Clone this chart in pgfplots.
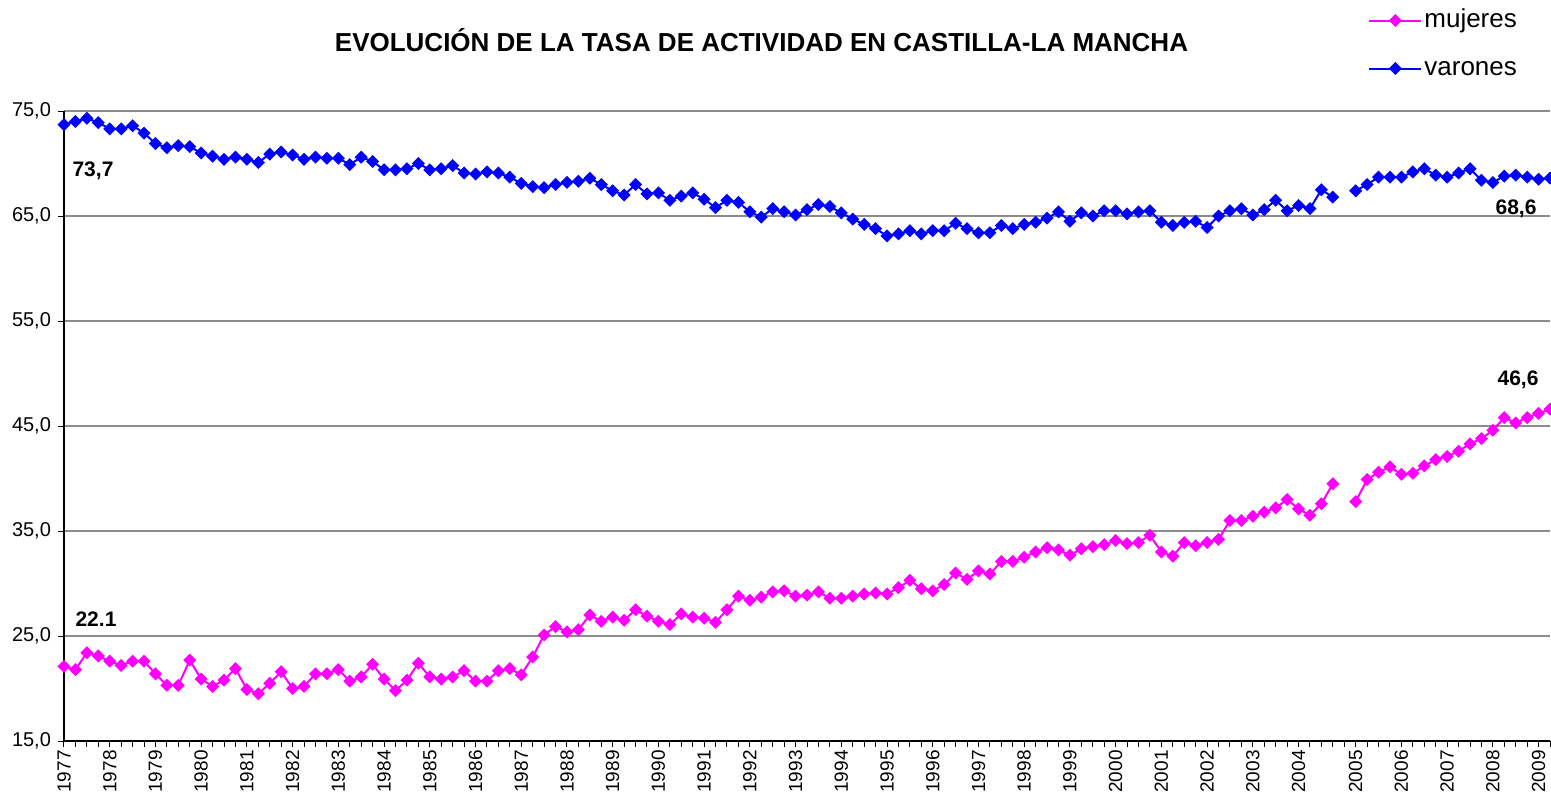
\documentclass[border=0pt]{standalone}
\usepackage{fontspec}
\setmainfont{Liberation Sans}
\usepackage{pgfplots}
\usepackage{pgfplotstable}
\pgfplotsset{compat=1.18}
\definecolor{muj}{RGB}{255,0,255}
\definecolor{var}{RGB}{0,0,255}
\definecolor{gridc}{RGB}{140,140,140}

% idx: quarter index from 1977-I (112 = series break between 2004 and 2005)
\pgfplotstableread{
x m v
0 22.1 73.7
1 21.8 74.0
2 23.4 74.3
3 23.1 73.9
4 22.6 73.3
5 22.2 73.3
6 22.6 73.6
7 22.6 72.9
8 21.4 71.9
9 20.3 71.5
10 20.3 71.7
11 22.7 71.6
12 20.9 71.0
13 20.2 70.7
14 20.8 70.4
15 21.9 70.6
16 19.9 70.4
17 19.5 70.1
18 20.5 70.9
19 21.6 71.1
20 20.0 70.8
21 20.2 70.4
22 21.4 70.6
23 21.4 70.5
24 21.8 70.5
25 20.7 69.9
26 21.1 70.6
27 22.3 70.2
28 20.9 69.4
29 19.8 69.4
30 20.8 69.5
31 22.4 70.0
32 21.1 69.4
33 20.9 69.5
34 21.1 69.8
35 21.7 69.1
36 20.7 69.0
37 20.7 69.2
38 21.7 69.1
39 21.9 68.7
40 21.3 68.1
41 23.0 67.8
42 25.1 67.7
43 25.9 68.0
44 25.4 68.2
45 25.6 68.3
46 27.0 68.6
47 26.4 68.0
48 26.8 67.4
49 26.5 67.0
50 27.5 68.0
51 26.9 67.1
52 26.4 67.2
53 26.1 66.5
54 27.1 66.9
55 26.8 67.2
56 26.7 66.6
57 26.3 65.8
58 27.5 66.5
59 28.8 66.3
60 28.4 65.4
61 28.7 64.9
62 29.2 65.7
63 29.3 65.4
64 28.8 65.1
65 28.9 65.6
66 29.2 66.1
67 28.6 65.9
68 28.6 65.3
69 28.8 64.7
70 29.0 64.2
71 29.1 63.8
72 29.0 63.1
73 29.6 63.3
74 30.3 63.6
75 29.5 63.3
76 29.3 63.6
77 29.9 63.6
78 31.0 64.3
79 30.4 63.8
80 31.2 63.4
81 30.9 63.4
82 32.1 64.1
83 32.1 63.8
84 32.5 64.2
85 33.0 64.4
86 33.4 64.8
87 33.2 65.4
88 32.7 64.5
89 33.3 65.3
90 33.5 65.0
91 33.7 65.5
92 34.1 65.5
93 33.8 65.2
94 33.9 65.4
95 34.6 65.5
96 33.0 64.4
97 32.6 64.1
98 33.9 64.4
99 33.6 64.5
100 33.9 63.9
101 34.2 65.0
102 36.0 65.5
103 36.0 65.7
104 36.4 65.1
105 36.8 65.6
106 37.2 66.5
107 38.0 65.5
108 37.1 66.0
109 36.5 65.7
110 37.6 67.5
111 39.5 66.8
112 nan nan
113 37.8 67.4
114 39.9 68.0
115 40.6 68.7
116 41.1 68.7
117 40.4 68.7
118 40.5 69.2
119 41.2 69.5
120 41.8 68.9
121 42.1 68.7
122 42.6 69.1
123 43.3 69.5
124 43.8 68.4
125 44.6 68.2
126 45.8 68.8
127 45.3 68.9
128 45.8 68.7
129 46.2 68.5
130 46.6 68.6
}\datatable

\begin{document}
\begin{tikzpicture}
\begin{axis}[
  at={(0pt,0pt)}, anchor=south west,
  scale only axis, width=743pt, height=315pt,
  xmin=0, xmax=130, ymin=15, ymax=75,
  clip=false,
  unbounded coords=jump,
  axis x line*=bottom, axis y line*=left,
  axis line style={black, line width=0.6pt},
  ytick={15,25,...,75},
  ymajorgrids, grid style={gridc, line width=0.6pt},
  xtick={0,4,8,12,16,20,24,28,32,36,40,44,48,52,56,60,64,68,72,76,80,84,88,92,96,100,104,108,113,117,121,125,129},
  xticklabels={1977,1978,1979,1980,1981,1982,1983,1984,1985,1986,1987,1988,1989,1990,1991,1992,1993,1994,1995,1996,1997,1998,1999,2000,2001,2002,2003,2004,2005,2006,2007,2008,2009},
  minor xtick={0,1,...,130},
  tick align=outside,
  major tick length=3pt, minor tick length=3pt,
  tick style={black, line width=0.5pt},
  xmajorticks=true, ymajorticks=true,
  xticklabel style={rotate=90, anchor=east, font=\fontsize{9.5}{11}\selectfont, inner sep=1.5pt},
  yticklabel style={font=\fontsize{10}{12}\selectfont},
  /pgf/number format/.cd, fixed, fixed zerofill, precision=1, use comma, assume math mode=true,
  /pgfplots/.cd,
  legend style={at={(0.8775,1.168)}, anchor=north west, draw=none, fill=none,
    font=\fontsize{13}{15}\selectfont, row sep=9pt, inner sep=0pt,
    nodes={inner sep=1pt, text height=10pt, text depth=3pt}},
  legend cell align=left,
  legend image code/.code={\draw[mark repeat=2,mark phase=2,#1] plot coordinates {(0pt,0pt) (13pt,0pt) (26pt,0pt)};},
]
\addplot[muj, line width=1pt, mark=square*, mark size=1.8pt, mark options={rotate=45, solid, fill=muj}] table[x=x, y=m] {\datatable};
\addlegendentry{mujeres}
\addplot[var, line width=1pt, mark=square*, mark size=1.8pt, mark options={rotate=45, solid, fill=var}] table[x=x, y=v] {\datatable};
\addlegendentry{varones}
\end{axis}
\node[anchor=base, font=\bfseries\fontsize{13}{15}\selectfont] at (348.75pt,344.5pt) {EVOLUCIÓN DE LA TASA DE ACTIVIDAD EN CASTILLA-LA MANCHA};
\node[anchor=base, font=\bfseries\fontsize{10.5}{12}\selectfont, inner sep=0pt] at (14.5pt,282pt) {73,7};
\node[anchor=base, font=\bfseries\fontsize{10.5}{12}\selectfont, inner sep=0pt] at (16pt,57.5pt) {22.1};
\node[anchor=base, font=\bfseries\fontsize{10.5}{12}\selectfont, inner sep=0pt] at (726pt,263pt) {68,6};
\node[anchor=base, font=\bfseries\fontsize{10.5}{12}\selectfont, inner sep=0pt] at (727pt,177.5pt) {46,6};
\pgfresetboundingbox
\path[use as bounding box] (-32pt,-28.5pt) rectangle (743.5pt,370.5pt);
\end{tikzpicture}
\end{document}
